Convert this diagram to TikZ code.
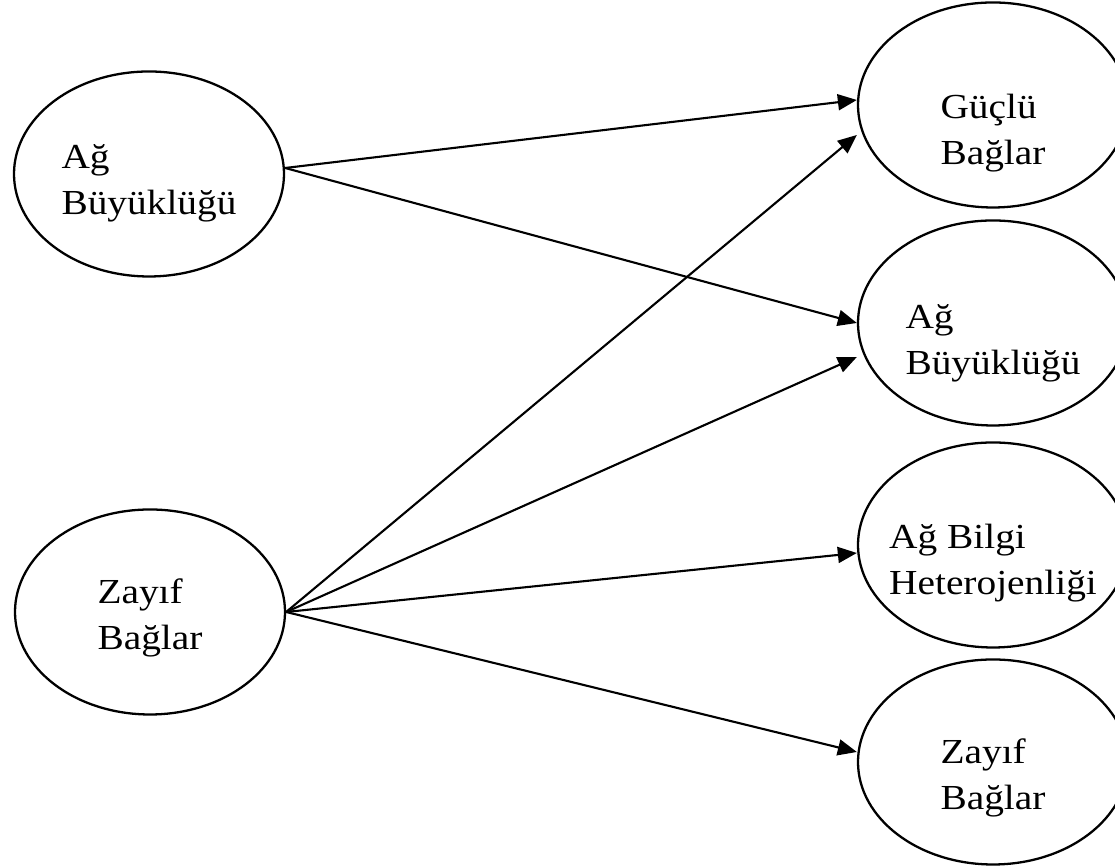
\documentclass[tikz,border=0pt]{standalone}
\usepackage{fontspec}
\setmainfont[FakeStretch=1.12]{Liberation Serif}
\usetikzlibrary{shapes.geometric,arrows.meta}
\tikzset{blob/.style={ellipse,draw,line width=1.3pt,minimum width=5.4cm,minimum height=4.1cm,inner xsep=-0.3cm,inner ysep=0pt,align=left,font=\fontsize{20}{26.7}\selectfont},
    lift/.style={text height=#1,text depth=0pt}}

\begin{document}
\begin{tikzpicture}[>={Triangle[length=0.38cm,width=0.32cm]}]
    \useasboundingbox (0,0) rectangle (22.3,17.36);
    \node[blob,lift=1.64cm] (ab) at (2.98,13.88) {Ağ\\Büyüklüğü};
    \node[blob,lift=1.52cm] (zb) at (3.0,5.12) {Zayıf\\Bağlar};
    \node[blob,lift=2.4cm] (gb) at (19.86,15.26) {Güçlü\\Bağlar};
    \node[blob,lift=2.08cm] (ab2) at (19.86,10.9) {Ağ\\Büyüklüğü};
    \node[blob,lift=2.0cm] (hb) at (19.86,6.46) {Ağ Bilgi\\Heterojenliği};
    \node[blob,lift=1.92cm] (zb2) at (19.86,2.12) {Zayıf\\Bağlar};

    \draw [->,line width=1.2pt] ([yshift=0.12cm]ab.east) -- ([yshift=0.1cm]gb.west);
    \draw [->,line width=1.2pt] ([yshift=0.12cm]ab.east) -- (ab2.west);
    \draw [->,line width=1.2pt] (zb.east) -- ([yshift=-0.6cm]gb.west);
    \draw [->,line width=1.2pt] (zb.east) -- ([yshift=-0.68cm]ab2.west);
    \draw [->,line width=1.2pt] (zb.east) -- ([yshift=-0.16cm]hb.west);
    \draw [->,line width=1.2pt] (zb.east) -- ([yshift=0.2cm]zb2.west);
\end{tikzpicture}
\end{document}
